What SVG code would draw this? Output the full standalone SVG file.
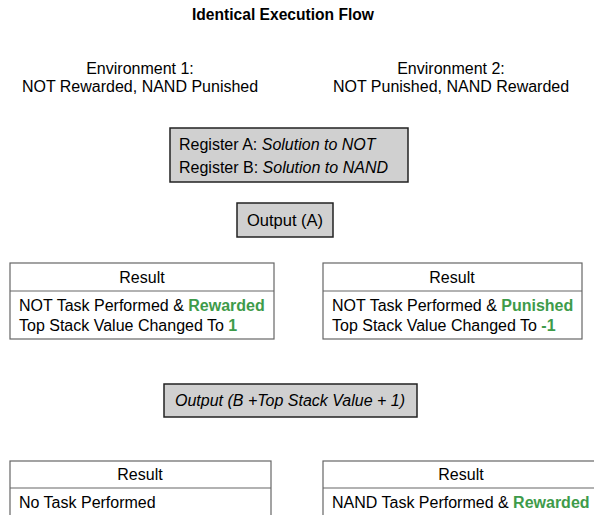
<svg xmlns="http://www.w3.org/2000/svg" width="594" height="515" viewBox="0 0 594 515">
<style>
text{font-family:"Liberation Sans",Arial,sans-serif;font-size:16px;fill:#000}
.t{font-weight:bold;font-size:15.6px}
.c{text-anchor:middle}
.g{fill:#3e9b4a;font-weight:bold}
.i{font-style:italic}
.gray{fill:#d0d0d0;stroke:#222;stroke-width:1.5}
.res{fill:#fff;stroke:#666;stroke-width:1.2}
</style>
<rect width="594" height="515" fill="#fff"/>
<text class="t c" x="283" y="20">Identical Execution Flow</text>
<g id="env1">
<text class="c" x="140" y="74">Environment 1:</text>
<text class="c" x="140" y="92">NOT Rewarded, NAND Punished</text>
</g>
<g id="env2">
<text class="c" x="451" y="74">Environment 2:</text>
<text class="c" x="451" y="92">NOT Punished, NAND Rewarded</text>
</g>
<g id="registers">
<rect class="gray" x="170" y="128" width="238" height="54"/>
<text x="179" y="150">Register A: <tspan class="i">Solution to NOT</tspan></text>
<text x="179" y="173">Register B: <tspan class="i">Solution to NAND</tspan></text>
</g>
<g id="outputA">
<rect class="gray" x="237" y="203" width="96" height="34"/>
<text class="c" x="285" y="226" style="font-size:16.5px">Output (A)</text>
</g>
<g id="result1">
<rect class="res" x="10" y="263" width="264" height="76"/>
<line x1="10" y1="291" x2="274" y2="291" stroke="#666" stroke-width="1.2"/>
<text class="c" x="142" y="283">Result</text>
<text x="19" y="311">NOT Task Performed &amp; <tspan class="g">Rewarded</tspan></text>
<text x="19" y="331">Top Stack Value Changed To <tspan class="g">1</tspan></text>
</g>
<g id="result2">
<rect class="res" x="323" y="263" width="259" height="76"/>
<line x1="323" y1="291" x2="582" y2="291" stroke="#666" stroke-width="1.2"/>
<text class="c" x="452" y="283">Result</text>
<text x="332" y="311">NOT Task Performed &amp; <tspan class="g">Punished</tspan></text>
<text x="332" y="331">Top Stack Value Changed To <tspan class="g">-1</tspan></text>
</g>
<g id="outputB">
<rect class="gray" x="164" y="384" width="253" height="33"/>
<text class="i c" x="290" y="406">Output (B +Top Stack Value + 1)</text>
</g>
<g id="result3">
<rect class="res" x="10" y="461" width="261" height="70"/>
<line x1="10" y1="488" x2="271" y2="488" stroke="#666" stroke-width="1.2"/>
<text class="c" x="140" y="480">Result</text>
<text x="19" y="508">No Task Performed</text>
</g>
<g id="result4">
<rect class="res" x="323" y="461" width="280" height="70"/>
<line x1="323" y1="488" x2="603" y2="488" stroke="#666" stroke-width="1.2"/>
<text class="c" x="461" y="480">Result</text>
<text x="332" y="508">NAND Task Performed &amp; <tspan class="g">Rewarded</tspan></text>
</g>
<g id="connectors"></g>
</svg>
